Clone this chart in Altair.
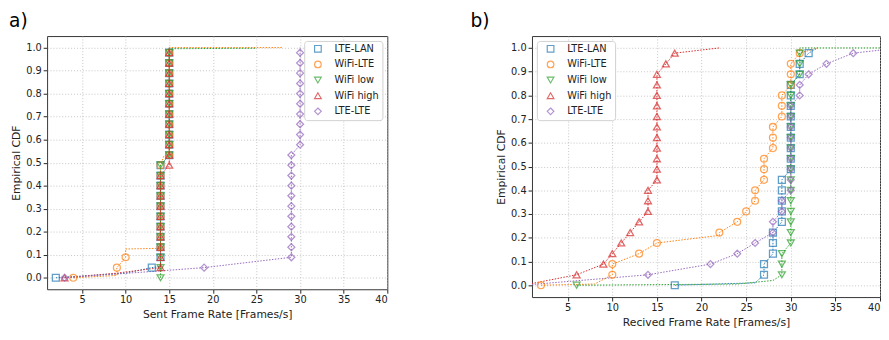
import altair as alt
import pandas as pd

series = ["LTE-LAN", "WiFi-LTE", "WiFi low", "WiFi high", "LTE-LTE"]
colors = ["#1f77b4", "#ff7f0e", "#2ca02c", "#d62728", "#9467bd"]
shapes = ["square", "circle", "triangle-down", "triangle-up", "M0,-1L1,0L0,1L-1,0Z"]

# ECDF levels at which markers are drawn
cdf_levels = [0.0, 0.044, 0.089, 0.133, 0.178, 0.222, 0.267, 0.311, 0.356, 0.4,
              0.444, 0.489, 0.533, 0.578, 0.622, 0.667, 0.711, 0.756, 0.8, 0.844,
              0.889, 0.933, 0.978]

# ---- a) Sent frame rate: marker x values per series
sent_lte_lan = [2, 13, 14, 14, 14, 14, 14, 14, 14, 14, 14, 14,
                15, 15, 15, 15, 15, 15, 15, 15, 15, 15, 15]
sent_wifi_lte = [4, 9, 10, 14, 14, 14, 14, 14, 14, 14, 14, 14,
                 15, 15, 15, 15, 15, 15, 15, 15, 15, 15, 15]
sent_wifi_low = [14, 14, 14, 14, 14, 14, 14, 14, 14, 14, 14, 14,
                 15, 15, 15, 15, 15, 15, 15, 15, 15, 15, 15]
sent_wifi_high = [3, 14, 14, 14, 14, 14, 14, 14, 14, 14, 14, 15,
                  15, 15, 15, 15, 15, 15, 15, 15, 15, 15, 15]
sent_lte_lte = [3, 19, 29, 29, 29, 29, 29, 29, 29, 29, 29, 29,
                29, 30, 30, 30, 30, 30, 30, 30, 30, 30, 30]
# extra ECDF points (between / after markers) for the dotted lines
sent_extra_x = {"LTE-LAN": [10, 14, 15], "WiFi-LTE": [9, 10, 14, 14.4, 15, 28],
                "WiFi low": [15, 25], "WiFi high": [9, 15], "LTE-LTE": [14, 30]}
sent_extra_y = {"LTE-LAN": [0.02, 0.05, 1.0], "WiFi-LTE": [0.01, 0.125, 0.128, 0.53, 1.0, 1.0],
                "WiFi low": [0.995, 0.997], "WiFi high": [0.02, 1.0], "LTE-LTE": [0.03, 1.0]}

# ---- b) Received frame rate
recv_lte_lan = [17, 27, 27, 28, 28, 28, 29, 29, 29, 29, 29, 30,
                30, 30, 30, 30, 30, 30, 30, 30, 31, 31, 32]
recv_wifi_lte = [2, 10, 10, 13, 15, 22, 24, 25, 26, 26, 27, 27,
                 27, 28, 28, 28, 29, 29, 29, 30, 30, 30, 31]
recv_wifi_low = [6, 29, 29, 29, 30, 30, 30, 30, 30, 30, 30, 30,
                 30, 30, 30, 30, 30, 30, 30, 30, 31, 31, 31]
recv_wifi_high = [0, 6, 9, 10, 11, 12, 13, 14, 14, 14, 15, 15,
                  15, 15, 15, 15, 15, 15, 15, 15, 15, 16, 17]
recv_lte_lte = [0, 14, 21, 24, 26, 28, 28, 29, 29, 30, 30, 30,
                30, 30, 30, 30, 30, 30, 31, 31, 32, 34, 37]
recv_extra_x = {"LTE-LAN": [26, 33], "WiFi-LTE": [8, 22, 33],
                "WiFi low": [24, 28, 31, 40], "WiFi high": [22], "LTE-LTE": [41]}
recv_extra_y = {"LTE-LAN": [0.01, 1.0], "WiFi-LTE": [0.005, 0.21, 1.0],
                "WiFi low": [0.005, 0.02, 1.0, 1.0], "WiFi high": [1.0], "LTE-LTE": [0.995]}

x_ticks = [5, 10, 15, 20, 25, 30, 35, 40]
y_ticks = [0.0, 0.1, 0.2, 0.3, 0.4, 0.5, 0.6, 0.7, 0.8, 0.9, 1.0]


def build(markers, extra_x, extra_y):
    pts, lines = [], []
    for s, xs in zip(series, markers):
        for x, y in zip(xs, cdf_levels):
            pts.append({"series": s, "x": x, "y": y})
        lp = list(zip(xs, cdf_levels)) + list(zip(extra_x[s], extra_y[s]))
        lp.sort(key=lambda p: (p[1], p[0]))
        for i, (x, y) in enumerate(lp):
            lines.append({"series": s, "x": x, "y": y, "order": i})
    return pd.DataFrame(pts), pd.DataFrame(lines)


def panel(markers, extra_x, extra_y, title, xtitle, legend_orient, w, h, title_dx):
    pts, lines = build(markers, extra_x, extra_y)
    xenc = alt.X("x:Q", scale=alt.Scale(domain=[1, 40], nice=False, zero=False),
                 axis=alt.Axis(values=x_ticks, title=xtitle))
    yenc = alt.Y("y:Q", scale=alt.Scale(domain=[-0.05, 1.05], nice=False, zero=False),
                 axis=alt.Axis(values=y_ticks, format=".1f", title="Empirical CDF"))
    leg = alt.Legend(title=None, orient=legend_orient, offset=5, fillColor="white",
                     strokeColor="#d0d0d0", cornerRadius=3, padding=3,
                     labelFontSize=10, symbolSize=46, symbolStrokeWidth=1.2,
                     symbolOffset=6, labelOffset=12, rowPadding=4, labelColor="#222",
                     labelLimit=80)
    color = alt.Color("series:N", scale=alt.Scale(domain=series, range=colors), legend=leg)
    shape = alt.Shape("series:N", scale=alt.Scale(domain=series, range=shapes), legend=leg)
    line = alt.Chart(lines).mark_line(strokeDash=[1.5, 1.5], strokeWidth=1, clip=True).encode(
        x=xenc, y=yenc, color=color, order="order:Q", detail="series:N")
    point = alt.Chart(pts).mark_point(filled=False, size=50, strokeWidth=1.3, clip=True).encode(
        x=xenc, y=yenc, color=color, shape=shape)
    return alt.layer(line, point).properties(
        width=w, height=h,
        title=alt.TitleParams(title, anchor="start", frame="bounds", fontSize=19,
                              fontWeight="normal", color="#000", offset=5, dx=title_dx))


left = panel([sent_lte_lan, sent_wifi_lte, sent_wifi_low, sent_wifi_high, sent_lte_lte],
             sent_extra_x, sent_extra_y, "a)", "Sent Frame Rate [Frames/s]", "top-right",
             348, 259, -2)
right = panel([recv_lte_lan, recv_wifi_lte, recv_wifi_low, recv_wifi_high, recv_lte_lte],
              recv_extra_x, recv_extra_y, "b)", "Recived Frame Rate [Frames/s]", "top-left",
              356, 267, -26)

chart = alt.hconcat(left, right, spacing=83).resolve_scale(
    color="independent", shape="independent", x="independent", y="independent"
).resolve_legend(color="independent", shape="independent").configure(
    font="DejaVu Sans", padding=0
).configure_view(stroke="#333", strokeWidth=1).configure_axis(
    grid=True, gridDash=[1, 2], gridColor="#b5b5b5", gridWidth=0.8,
    domain=False, tickSize=4, tickColor="#222", labelFontSize=10, labelColor="#222",
    titleFontSize=11, titleFontWeight="normal", titleColor="#222",
    labelPadding=2, titlePadding=4
)

chart.save("out.html", embed_options={"renderer": "svg", "actions": False})
